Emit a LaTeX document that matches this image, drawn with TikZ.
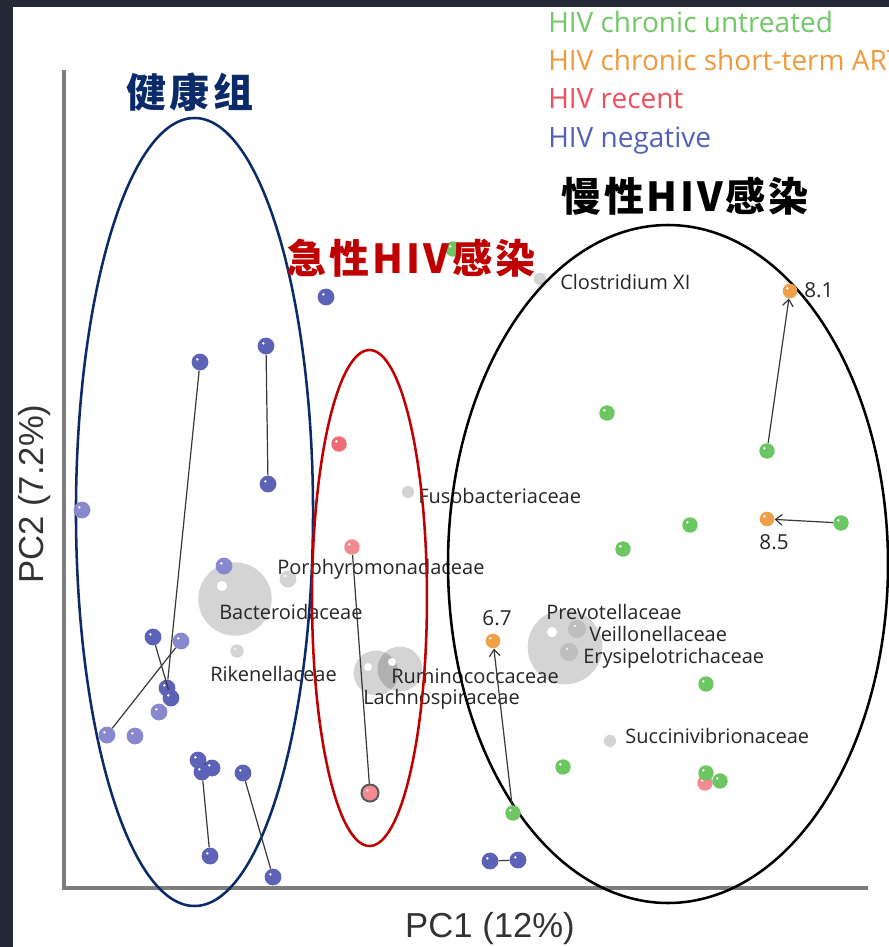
\documentclass[tikz,border=0pt]{standalone}
\usepackage{fontspec}
\setmainfont{Open Sans}
\newfontfamily\cjkf{Noto Sans CJK SC}
\newfontfamily\arialf{Liberation Sans}
\usetikzlibrary{arrows.meta}
\definecolor{frame}{HTML}{232A36}
\definecolor{bluedark}{HTML}{5C62B6}
\definecolor{bluelight}{HTML}{8788CD}
\definecolor{grn}{HTML}{6CC763}
\definecolor{org}{HTML}{F0A048}
\definecolor{redp}{HTML}{EF6C76}
\definecolor{redl}{HTML}{F28A92}
\definecolor{bub}{HTML}{D4D4D4}
\definecolor{axisg}{HTML}{7E7E7E}
\definecolor{navy}{HTML}{0B2A68}
\definecolor{dred}{HTML}{C00000}
\definecolor{legg}{HTML}{72C866}
\definecolor{lego}{HTML}{F09A3E}
\definecolor{legr}{HTML}{F0505E}
\definecolor{legb}{HTML}{5262B8}
\tikzset{
  dotball/.style={circle, inner sep=0pt, minimum size=12.6pt, fill=#1,
    path picture={\fill[white] ([xshift=-2pt,yshift=2pt]path picture bounding box.center) circle (1pt);}},
  nb/.style={dotball=bluedark},
  lb/.style={dotball=bluelight},
  gr/.style={dotball=grn, minimum size=11.6pt},
  og/.style={dotball=org, minimum size=11pt},
  rd/.style={dotball=redp, minimum size=11.6pt},
  link/.style={draw=black!78, line width=0.9pt},
  arr/.style={link, -{Straight Barb[length=5pt,width=8pt]}},
  taxon/.style={anchor=base west, inner sep=0pt, font=\fontsize{15}{18}\selectfont, text=black!85},
  numlab/.style={anchor=base, inner sep=0pt, font=\fontsize{15.5}{18}\selectfont, text=black!85},
  legend/.style={anchor=base west, inner sep=0pt, font=\fontsize{21}{25}\selectfont},
  cjklab/.style={inner sep=0pt, font=\cjkf\bfseries\fontsize{30}{36}\selectfont},
  axlab/.style={inner sep=0pt, anchor=base, font=\arialf\fontsize{26}{30}\selectfont, text=black!80},
  ring/.style={line width=1.9pt},
}
\begin{document}
\begin{tikzpicture}[x=0.75pt,y=-0.75pt]
\useasboundingbox (0,0) rectangle (889,947);
% frame
\fill[frame] (0,0) rectangle (889,947);
\fill[white] (13,7) rectangle (889,947);
% axes
\draw[axisg, line width=2.3pt] (64,70) -- (64,888) -- (868,888);
\node[axlab] (xl) at (490,937) {PC1 (12\%)};
\node[axlab, rotate=90] (yl) at (43,494) {PC2 (7.2\%)};
% bubbles
\fill[bub] (540,279) circle [radius=4.6pt];
\fill[bub] (408,492) circle [radius=4.6pt];
\fill[bub] (610,741) circle [radius=4.6pt];
\fill[bub] (288,579) circle [radius=6.4pt];
\fill[white] (285,576) circle [radius=1pt];
\fill[bub] (235,599) circle [radius=27.5pt];
\fill[white] (222,586) circle [radius=3.8pt];
\fill[bub] (237,651) circle [radius=5pt];
\fill[white] (235,649) circle [radius=0.9pt];
\fill[black, fill opacity=0.17] (376,673) circle [radius=16.8pt];
\fill[black, fill opacity=0.17] (400,669) circle [radius=16.8pt];
\fill[white] (368,667) circle [radius=3pt];
\fill[white] (392,662) circle [radius=3pt];
\fill[bub] (565,647) circle [radius=28pt];
\fill[white] (552,632) circle [radius=3.8pt];
\fill[black, fill opacity=0.1] (577,629) circle [radius=6.8pt];
\fill[black, fill opacity=0.1] (569,652) circle [radius=6.8pt];
\fill[white] (575,626) circle [radius=0.9pt];
\fill[white] (567,649) circle [radius=0.9pt];
% taxa labels
\node[taxon] (tclo) at (560,289) {Clostridium XI};
\node[taxon] (tfus) at (418,503) {Fusobacteriaceae};
\node[taxon] (tpor) at (277,574) {Porphyromonadaceae};
\node[taxon] (tbac) at (219,619) {Bacteroidaceae};
\node[taxon] (trik) at (210,681) {Rikenellaceae};
\node[taxon] (trum) at (391,683) {Ruminococcaceae};
\node[taxon] (tlac) at (363,704) {Lachnospiraceae};
\node[taxon] (tpre) at (546,619) {Prevotellaceae};
\node[taxon] (tvei) at (589,641) {Veillonellaceae};
\node[taxon] (tery) at (583,663) {Erysipelotrichaceae};
\node[taxon] (tsuc) at (625,743) {Succinivibrionaceae};
% ellipses
\draw[ring, navy] (194.5,512) ellipse [x radius=88.9pt, y radius=295.5pt];
\draw[ring, dred] (369.5,598) ellipse [x radius=43.1pt, y radius=186pt];
\draw[ring, black] (668,564) ellipse [x radius=165pt, y radius=254.25pt];
% blue points
\node[nb] (b1) at (326,297) {};
\node[nb] (b2) at (200,362) {};
\node[nb] (b3) at (266,346) {};
\node[nb] (b4) at (268,484) {};
\node[nb] (b5) at (153,637) {};
\node[nb] (b6) at (167,688) {};
\node[nb] (b7) at (171,698) {};
\node[nb] (b8) at (198,760) {};
\node[nb] (b9) at (212,768) {};
\node[nb] (b10) at (202,772) {};
\node[nb] (b11) at (210,856) {};
\node[nb] (b12) at (243,773) {};
\node[nb] (b13) at (273,877) {};
\node[nb] (b14) at (490,861) {};
\node[nb] (b15) at (518,860) {};
\node[lb] (l1) at (82,510) {};
\node[lb] (l2) at (224,566) {};
\node[lb] (l3) at (181,641) {};
\node[lb] (l4) at (159,712) {};
\node[lb] (l5) at (107,735) {};
\node[lb] (l6) at (135,736) {};
% red points
\node[rd] (r1) at (339,444) {};
\node[rd, fill=redl] (r2) at (352,547) {};
\node[rd, fill=redl, draw=black!65, line width=1.5pt, minimum size=12.8pt] (r3) at (370,793) {};
\node[rd, fill=redl] (r4) at (705,783) {};
% green points
\node[gr] (g1) at (453,249) {};
\node[gr] (g2) at (607,413) {};
\node[gr] (g3) at (767,451) {};
\node[gr] (g4) at (690,525) {};
\node[gr] (g5) at (623,549) {};
\node[gr] (g6) at (841,523) {};
\node[gr] (g7) at (706,684) {};
\node[gr] (g8) at (563,767) {};
\node[gr] (g9) at (706,773) {};
\node[gr] (g10) at (720,781) {};
\node[gr] (g11) at (513,813) {};
% orange points
\node[og] (o1) at (790,291) {};
\node[og] (o2) at (767,519) {};
\node[og] (o3) at (493,641) {};
% connectors
\draw[link] (b2) -- (b6);
\draw[link] (b3) -- (b4);
\draw[link] (b5) -- (b7);
\draw[link] (l3) -- (l5);
\draw[link] (b8) -- (b9);
\draw[link] (b10) -- (b11);
\draw[link] (b12) -- (b13);
\draw[link] (b14) -- (b15);
\draw[link] (r2) -- (r3);
\draw[arr] (g3) -- (o1);
\draw[arr] (g6) -- (o2);
\draw[arr] (g11) -- (o3);
% number labels
\node[numlab, anchor=base west] (n81) at (804,297) {8.1};
\node[numlab] (n85) at (774,549) {8.5};
\node[numlab] (n67) at (497,625) {6.7};
% legend
\node[legend, text=legg] (lg1) at (548,32) {HIV chronic untreated};
\node[legend, text=lego] (lg2) at (548,70) {HIV chronic short-term ART};
\node[legend, text=legr] (lg3) at (548,108) {HIV recent};
\node[legend, text=legb] (lg4) at (548,147) {HIV negative};
% group labels
\node[cjklab, text=navy] (cn1) at (190,92) {\addfontfeature{LetterSpace=8}健康组};
\node[cjklab, text=dred] (cn2) at (411,258) {\addfontfeature{LetterSpace=8}急性HIV感染};
\node[cjklab, text=black] (cn3) at (685,196) {\addfontfeature{LetterSpace=7}慢性HIV感染};
\end{tikzpicture}
\end{document}
